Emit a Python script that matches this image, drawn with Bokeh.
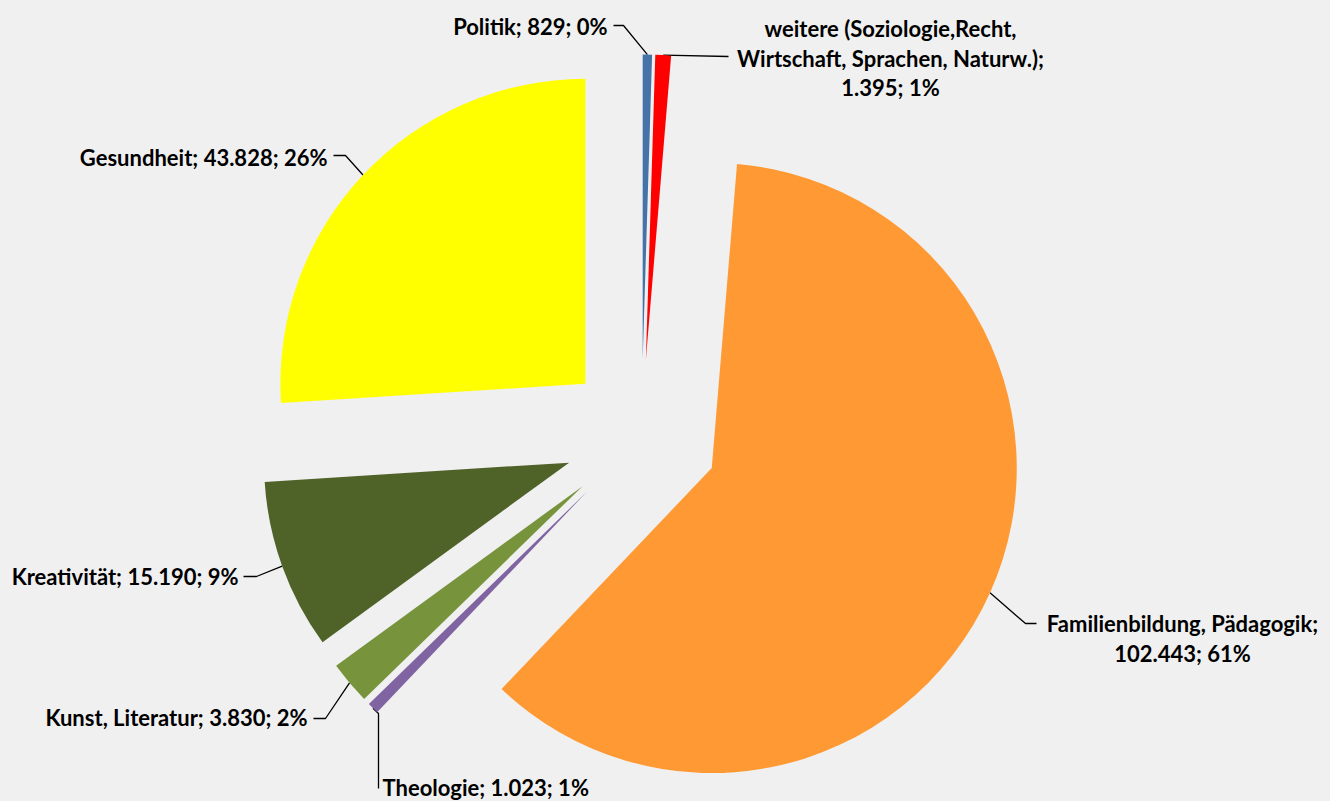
import math
from bokeh.plotting import figure
from bokeh.models import Range1d, ColumnDataSource
from bokeh.embed import file_html
from bokeh.resources import INLINE
from bokeh.core.properties import value

# ---------------- data ----------------
categories = [
    "Politik",
    "weitere (Soziologie,Recht,\nWirtschaft, Sprachen, Naturw.)",
    "Familienbildung, Pädagogik",
    "Theologie",
    "Kunst, Literatur",
    "Kreativität",
    "Gesundheit",
]
values = [829, 1395, 102443, 1023, 3830, 15190, 43828]
colors = ["#4572A7", "#FF0000", "#FF9933", "#8064A2", "#77933C", "#4F6228", "#FFFF00"]
value_on_new_line = [False, True, True, False, False, False, False]

# ---------------- layout (image pixel coords, y down) ----------------
W, H = 1330, 801
CX, CY = 641.0, 436.0       # pie centre
R = 305.0                   # radius
EXPLODE = 77.0              # explosion offset

# label anchor (x, first baseline), alignment, leader elbow points
label_layout = [
    dict(x=607, y=26, align="right", elbow=[(623, 25), (613, 25)]),
    dict(x=890, y=28, align="center", elbow=[(728, 56)]),
    dict(x=1182, y=623, align="center", elbow=[(1025, 623), (1036, 623)]),
    dict(x=382, y=787, align="left", elbow=[(378, 713), (378, 788)]),
    dict(x=307, y=717, align="right", elbow=[(325, 718), (313, 718)]),
    dict(x=238, y=576, align="right", elbow=[(256, 576), (243, 576)]),
    dict(x=327, y=157, align="right", elbow=[(345, 155), (333, 155)]),
]
LINE_H = 29.5

def Y(y):
    return H - y

total = sum(values)

def fmt(v):
    return f"{v:,}".replace(",", ".")

p = figure(width=W, height=H, output_backend="svg", toolbar_location=None,
           x_range=Range1d(0, W), y_range=Range1d(0, H),
           x_axis_location=None, y_axis_location=None,
           background_fill_color="#F0F0F0", border_fill_color="#F0F0F0",
           min_border=0, outline_line_color=None)
p.grid.visible = False

xs, ys, sa, ea = [], [], [], []
lx, ly, lt, lal = [], [], [], []
cum = 0.0
for i, v in enumerate(values):
    t1 = cum / total * 2 * math.pi
    cum += v
    t2 = cum / total * 2 * math.pi
    mid = (t1 + t2) / 2
    dx, dy = math.sin(mid), -math.cos(mid)   # image coords (y down)
    ax, ay = CX + EXPLODE * dx, CY + EXPLODE * dy
    xs.append(ax); ys.append(Y(ay))
    sa.append(math.pi / 2 - t2); ea.append(math.pi / 2 - t1)

    # leader line
    sx, sy = ax + R * dx, ay + R * dy
    pts = [(sx, sy)] + label_layout[i]["elbow"]
    p.line([q[0] for q in pts], [Y(q[1]) for q in pts], line_color="black", line_width=1.3)

    # label text
    pct = round(100 * v / total)
    if value_on_new_line[i]:
        text = f"{categories[i]};\n{fmt(v)}; {pct}%"
    else:
        text = f"{categories[i]}; {fmt(v)}; {pct}%"
    lay = label_layout[i]
    for k, line in enumerate(text.split("\n")):
        lx.append(lay["x"]); ly.append(Y(lay["y"] + k * LINE_H))
        lt.append(line); lal.append(lay["align"])

src = ColumnDataSource(dict(x=xs, y=ys, s=sa, e=ea, c=colors))
p.wedge(x="x", y="y", radius=R, start_angle="s", end_angle="e", direction="anticlock",
        fill_color="c", line_color=None, source=src)

lsrc = ColumnDataSource(dict(x=lx, y=ly, t=lt, a=lal))
p.text(x="x", y="y", text="t", text_align="a", text_baseline="alphabetic",
       text_font=value("Lato"), text_font_style="bold", text_font_size="22px",
       text_color="black", source=lsrc)

html = file_html(p, INLINE)
html = html.replace("<head>", "<head><style>body{background:#F0F0F0;}</style>", 1)
open("out.html", "w").write(html)
